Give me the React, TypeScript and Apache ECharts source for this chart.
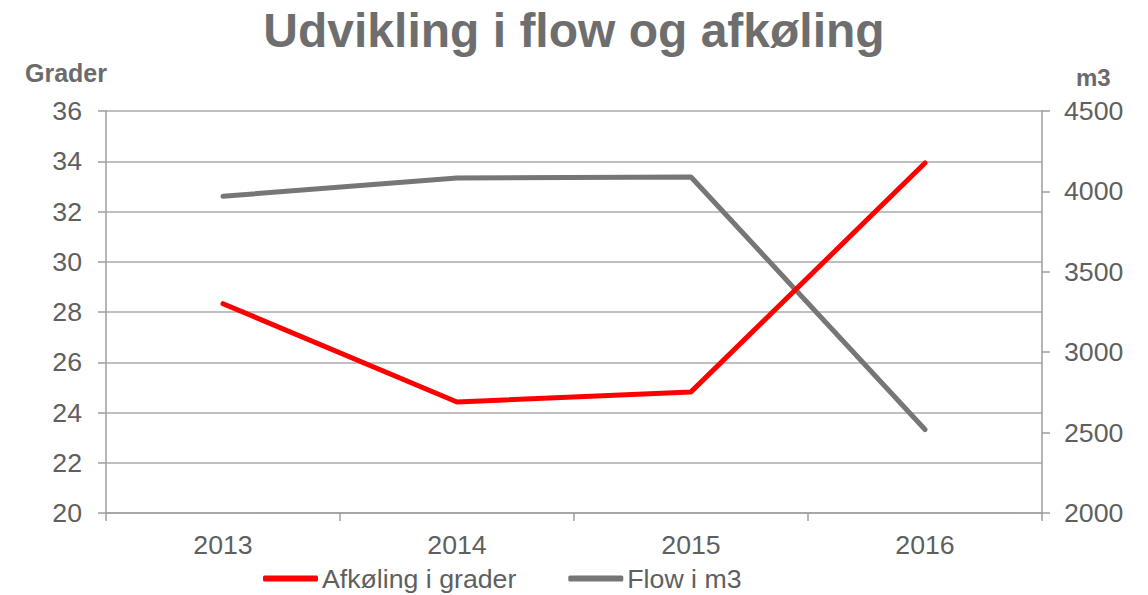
import React, { useEffect, useRef } from "react";
import * as echarts from "echarts";

const categories = ["2013", "2014", "2015", "2016"];
const afkoeling = [28.33, 24.42, 24.82, 33.93];
const flow = [3970, 4083, 4090, 2519];

const FONT = "'Liberation Sans', Arial, Helvetica, sans-serif";
const TEXT = "#5f5f5f";
const LBL = 26.7;

export default function App() {
  const ref = useRef<HTMLDivElement>(null);
  useEffect(() => {
    const chart = echarts.init(ref.current!, undefined, { renderer: "svg" });
    chart.setOption({
      animation: false,
      textStyle: { fontFamily: FONT },
      title: {
        text: "Udvikling i flow og afkøling",
        left: "center",
        top: 1,
        textStyle: { fontFamily: FONT, fontSize: 48, fontWeight: "bold", color: "#6e6e6e" },
      },
      grid: { left: 106, right: 106, top: 111, bottom: 82, containLabel: false },
      legend: {
        top: 565,
        left: 263,
        padding: 0,
        itemWidth: 55,
        itemHeight: 6,
        itemGap: 52,
        icon: "roundRect",
        textStyle: { fontFamily: FONT, fontSize: LBL, color: TEXT, padding: [0, 0, 0, -1] },
        data: ["Afkøling i grader", "Flow i m3"],
      },
      xAxis: {
        type: "category",
        data: categories,
        boundaryGap: true,
        axisLine: { lineStyle: { color: "#9e9e9e", width: 1.5 } },
        axisTick: { show: true, length: 8, lineStyle: { color: "#9e9e9e", width: 1.5 } },
        axisLabel: { fontFamily: FONT, fontSize: LBL, color: TEXT, margin: 18 },
      },
      yAxis: [
        {
          type: "value",
          min: 20,
          max: 36,
          interval: 2,
          name: "Grader",
          nameLocation: "end",
          nameGap: 26,
          nameTextStyle: { fontFamily: FONT, fontSize: 25, fontWeight: "bold", color: "#6b6b6b", align: "right", padding: [0, -1, 0, 0] },
          axisLine: { show: true, lineStyle: { color: "#9e9e9e", width: 1.5 } },
          axisTick: { show: true, length: 8, lineStyle: { color: "#9e9e9e", width: 1.5 } },
          axisLabel: { fontFamily: FONT, fontSize: LBL, color: TEXT, margin: 24 },
          splitLine: { show: true, lineStyle: { color: "#ababab", width: 1.5 } },
        },
        {
          type: "value",
          min: 2000,
          max: 4500,
          interval: 500,
          position: "right",
          name: "m3",
          nameLocation: "end",
          nameGap: 22,
          nameTextStyle: { fontFamily: FONT, fontSize: 24, fontWeight: "bold", color: "#6b6b6b", align: "left", padding: [0, 0, 0, 34] },
          axisLine: { show: true, lineStyle: { color: "#9e9e9e", width: 1.5 } },
          axisTick: { show: true, length: 8, lineStyle: { color: "#9e9e9e", width: 1.5 } },
          axisLabel: { fontFamily: FONT, fontSize: LBL, color: TEXT, margin: 22, formatter: (v: number) => String(v) },
          splitLine: { show: false },
        },
      ],
      series: [
        {
          name: "Afkøling i grader",
          type: "line",
          yAxisIndex: 0,
          data: afkoeling,
          showSymbol: false,
          symbol: "none",
          lineStyle: { color: "#ff0000", width: 5, cap: "round" },
          itemStyle: { color: "#ff0000" },
          z: 3,
        },
        {
          name: "Flow i m3",
          type: "line",
          yAxisIndex: 1,
          data: flow,
          showSymbol: false,
          symbol: "none",
          lineStyle: { color: "#767676", width: 5, cap: "round" },
          itemStyle: { color: "#767676" },
          z: 2,
        },
      ],
    });
    return () => chart.dispose();
  }, []);
  return <div ref={ref} style={{ width: 1148, height: 595, position: "absolute", left: 0, top: 0 }} />;
}
